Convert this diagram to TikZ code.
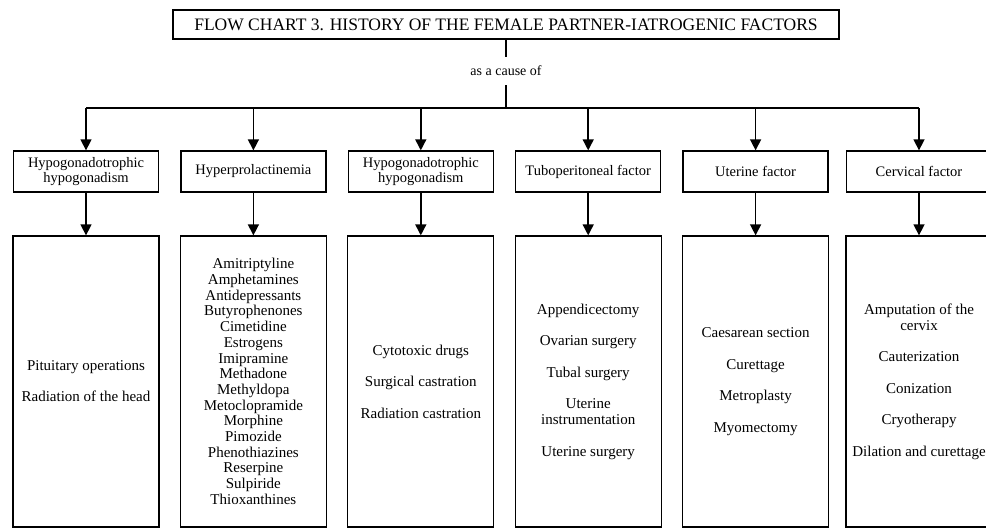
\documentclass[tikz,border=0pt]{standalone}
\usepackage{fontspec}
\setmainfont{Liberation Serif}
\usetikzlibrary{arrows.meta,positioning}

\begin{document}
\begin{tikzpicture}[x=1pt, y=-1pt,
    headline/.style={
        rectangle, draw, line width=1.3pt, inner sep=0pt,
        minimum width=666pt, minimum height=29pt,
        font=\fontsize{17.5}{20}\selectfont
    },
    factor/.style={
        rectangle, draw, line width=1.3pt, inner sep=1pt,
        minimum width=145pt, minimum height=41pt, align=center,
        font=\fontsize{14.5}{13}\selectfont
    },
    causelist/.style={
        rectangle, draw, line width=1.3pt,
        minimum width=146pt, minimum height=291pt, align=center,
        font=\fontsize{15}{16}\selectfont
    },
    link/.style={line width=1.5pt},
    causes/.style={-{Triangle[length=11pt, width=11pt]}, line width=1.5pt}
]
\useasboundingbox (0,0) rectangle (986,530);

% title
\node[headline] (title) at (506,24.5) {FLOW CHART 3. HISTORY OF THE FEMALE PARTNER-IATROGENIC FACTORS};
\node[font=\fontsize{14}{16}\selectfont, minimum height=28pt, inner sep=0pt] (cause) at (506,71) {as a cause of};
\coordinate (bus) at (506,108);

% factors
\node[factor] (f1) at (86,171.5) {Hypogonadotrophic\\hypogonadism};
\node[factor] (f2) at (253.4,171.5) {Hyperprolactinemia};
\node[factor] (f3) at (420.8,171.5) {Hypogonadotrophic\\hypogonadism};
\node[factor] (f4) at (588.2,171.5) {Tuboperitoneal factor};
\node[factor] (f5) at (755.6,171.5) {Uterine factor};
\node[factor] (f6) at (919,171.5) {Cervical factor};

% causes
\node[causelist] (c1) at (86,381.5) {Pituitary operations\\[15pt]Radiation of the head};
\node[causelist, font=\fontsize{15}{15.7}\selectfont] (c2) at (253.4,381.5) {Amitriptyline\\Amphetamines\\Antidepressants\\Butyrophenones\\Cimetidine\\Estrogens\\Imipramine\\Methadone\\Methyldopa\\Metoclopramide\\Morphine\\Pimozide\\Phenothiazines\\Reserpine\\Sulpiride\\Thioxanthines};
\node[causelist] (c3) at (420.8,381.5) {Cytotoxic drugs\\[15.5pt]Surgical castration\\[15.5pt]Radiation castration};
\node[causelist] (c4) at (588.2,381.5) {Appendicectomy\\[15.5pt]Ovarian surgery\\[15.5pt]Tubal surgery\\[15.5pt]Uterine\\instrumentation\\[15.5pt]Uterine surgery};
\node[causelist] (c5) at (755.6,381.5) {Caesarean section\\[15.5pt]Curettage\\[15.5pt]Metroplasty\\[15.5pt]Myomectomy};
\node[causelist] (c6) at (919,381.5) {Amputation of the\\cervix\\[15.5pt]Cauterization\\[15.5pt]Conization\\[15.5pt]Cryotherapy\\[15.5pt]Dilation and curettage};

% title to bus
\draw[link] (title) -- (cause);
\draw[link] (cause) -- (bus);
\draw[link] (f1 |- bus) -- (f6 |- bus);

% bus to factors
\draw[causes] (f1 |- bus) -- (f1);
\draw[causes] (f2 |- bus) -- (f2);
\draw[causes] (f3 |- bus) -- (f3);
\draw[causes] (f4 |- bus) -- (f4);
\draw[causes] (f5 |- bus) -- (f5);
\draw[causes] (f6 |- bus) -- (f6);

% factors to causes
\draw[causes] (f1) -- (c1);
\draw[causes] (f2) -- (c2);
\draw[causes] (f3) -- (c3);
\draw[causes] (f4) -- (c4);
\draw[causes] (f5) -- (c5);
\draw[causes] (f6) -- (c6);

\end{tikzpicture}
\end{document}
